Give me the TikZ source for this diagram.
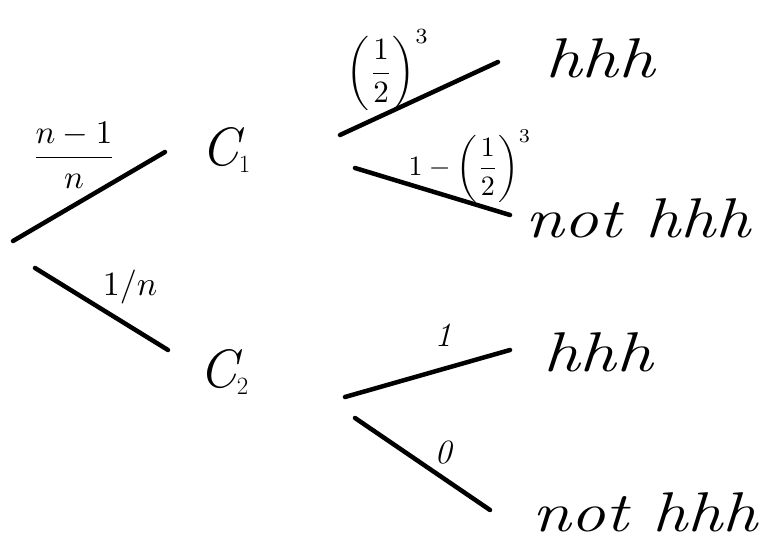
\documentclass[tikz,border=0pt]{standalone}
\begin{document}
\begin{tikzpicture}[x=1pt,y=-1pt,
  branch/.style={line width=4.5pt,line cap=round},
  big/.style={font=\fontsize{54}{58}\selectfont\itshape},
  lab/.style={font=\fontsize{34}{38}\selectfont\itshape},
  leaf/.style={font=\fontsize{56}{60}\selectfont\itshape}]
\useasboundingbox (0,0) rectangle (772,548);
% endpoints
\coordinate (r1) at (13,241);
\coordinate (r1e) at (165,152);
\coordinate (r2) at (35,268);
\coordinate (r2e) at (168,350);
\coordinate (a1) at (340,135);
\coordinate (a1e) at (498,62);
\coordinate (a2) at (355,168);
\coordinate (a2e) at (510,215);
\coordinate (b1) at (345,397);
\coordinate (b1e) at (510,350);
\coordinate (b2) at (355,418);
\coordinate (b2e) at (490,510);
% nodes
\node[big] (C1) at (226,150) {C$_1$};
\node[big] (C2) at (224,372) {C$_2$};
\node[leaf] (h1) at (600,58) {\scalebox{1.3}[1]{hhh}};
\node[leaf] (n1) at (638,218) {\scalebox{1.25}[1]{not hhh}};
\node[leaf] (h2) at (598,352) {\scalebox{1.3}[1]{hhh}};
\node[leaf] (n2) at (645,512) {\scalebox{1.25}[1]{not hhh}};
% branches
\draw[branch] (r1) -- (r1e);
\draw[branch] (r2) -- (r2e);
\draw[branch] (a1) -- (a1e);
\draw[branch] (a2) -- (a2e);
\draw[branch] (b1) -- (b1e);
\draw[branch] (b2) -- (b2e);
% labels
\node (l1) at (74,155) {\scalebox{3.3}{$\displaystyle\frac{n-1}{n}$}};
\node (l2) at (130,287) {\scalebox{3.4}{$1/n$}};
\node[inner sep=0pt] (l3) at (388,70) {\scalebox{3.1}{$\displaystyle\left(\frac{1}{2}\right)^{3}$}};
\node (l4) at (470,166) {\scalebox{2.8}{$\displaystyle 1-\left(\frac{1}{2}\right)^{3}$}};
\node[lab] (l5) at (443,335) {1};
\node[lab] (l6) at (443,453) {0};
\end{tikzpicture}
\end{document}
